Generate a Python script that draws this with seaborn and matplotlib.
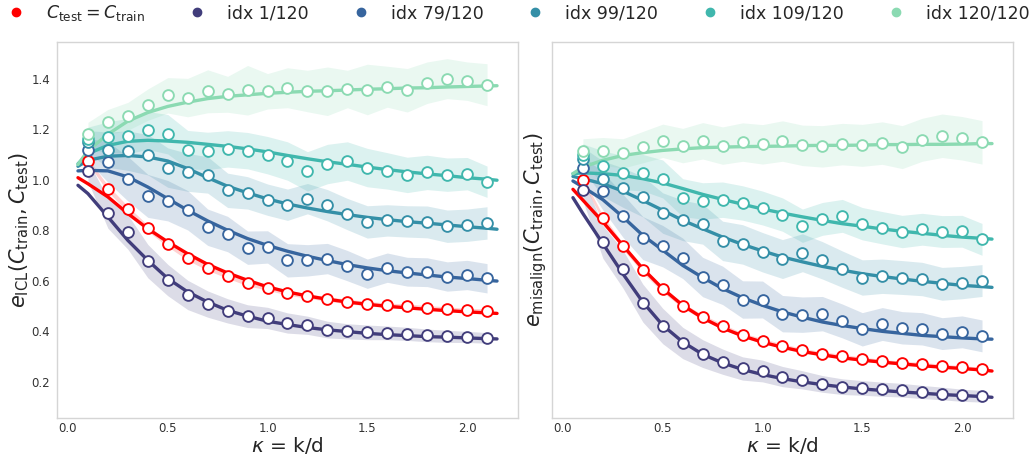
import numpy as np
import matplotlib
matplotlib.use("Agg")
import matplotlib.pyplot as plt
from matplotlib.lines import Line2D
import seaborn as sns

# ---------------- data ----------------
kappa = [0.1, 0.2, 0.3, 0.4, 0.5, 0.6, 0.7, 0.8, 0.9, 1.0, 1.1,
         1.2, 1.3, 1.4, 1.5, 1.6, 1.7, 1.8, 1.9, 2.0, 2.1]
kappa_theory = [0.05, 0.1, 0.2, 0.3, 0.4, 0.5, 0.6, 0.7, 0.8, 0.9, 1.0, 1.1,
                1.2, 1.3, 1.4, 1.5, 1.6, 1.7, 1.8, 1.9, 2.0, 2.1, 2.15]

series_labels = ["$C_{\\mathrm{test}} = C_{\\mathrm{train}}$", "idx 1/120", "idx 79/120",
                 "idx 99/120", "idx 109/120", "idx 120/120"]

# left panel: e_ICL -- theory curves
icl_theory_match = [1.008, 0.984, 0.932, 0.866, 0.806, 0.754, 0.707, 0.665, 0.631, 0.602, 0.576, 0.556,
                    0.540, 0.527, 0.516, 0.507, 0.499, 0.493, 0.487, 0.482, 0.477, 0.473, 0.471]
icl_theory_idx1 = [0.978, 0.945, 0.853, 0.760, 0.681, 0.609, 0.556, 0.516, 0.483, 0.460, 0.440, 0.427,
                   0.415, 0.406, 0.399, 0.392, 0.387, 0.383, 0.379, 0.377, 0.374, 0.371, 0.370]
icl_theory_idx79 = [1.035, 1.037, 1.035, 1.011, 0.971, 0.925, 0.879, 0.837, 0.800, 0.767, 0.740, 0.717,
                    0.697, 0.680, 0.664, 0.651, 0.640, 0.631, 0.623, 0.615, 0.609, 0.602, 0.599]
icl_theory_idx99 = [1.053, 1.077, 1.093, 1.096, 1.090, 1.074, 1.044, 1.008, 0.974, 0.948, 0.924, 0.904,
                    0.888, 0.874, 0.862, 0.851, 0.842, 0.834, 0.828, 0.821, 0.814, 0.808, 0.804]
icl_theory_idx109 = [1.063, 1.103, 1.136, 1.152, 1.156, 1.153, 1.148, 1.140, 1.132, 1.122, 1.110, 1.096,
                     1.083, 1.071, 1.061, 1.050, 1.040, 1.031, 1.023, 1.016, 1.008, 1.002, 0.998]
icl_theory_idx120 = [1.060, 1.115, 1.180, 1.232, 1.266, 1.290, 1.307, 1.321, 1.330, 1.336, 1.342, 1.346,
                     1.350, 1.352, 1.355, 1.358, 1.360, 1.363, 1.364, 1.367, 1.369, 1.371, 1.372]

# left panel: e_ICL -- empirical means
icl_emp_match = [1.074, 0.965, 0.883, 0.808, 0.746, 0.692, 0.651, 0.620, 0.590, 0.573, 0.553,
                 0.540, 0.528, 0.518, 0.510, 0.503, 0.499, 0.494, 0.489, 0.483, 0.481]
icl_emp_idx1 = [1.033, 0.868, 0.793, 0.678, 0.603, 0.544, 0.508, 0.481, 0.460, 0.453, 0.433,
                0.424, 0.407, 0.400, 0.396, 0.394, 0.390, 0.384, 0.380, 0.378, 0.374]
icl_emp_idx79 = [1.119, 1.070, 1.004, 0.936, 0.917, 0.879, 0.812, 0.785, 0.731, 0.734, 0.681,
                 0.681, 0.688, 0.660, 0.628, 0.652, 0.636, 0.634, 0.617, 0.623, 0.610]
icl_emp_idx99 = [1.149, 1.119, 1.115, 1.099, 1.048, 1.029, 1.019, 0.958, 0.948, 0.921, 0.901,
                 0.925, 0.899, 0.864, 0.833, 0.839, 0.835, 0.833, 0.816, 0.820, 0.829]
icl_emp_idx109 = [1.163, 1.169, 1.173, 1.195, 1.180, 1.119, 1.114, 1.122, 1.115, 1.097, 1.074,
                  1.033, 1.062, 1.074, 1.048, 1.035, 1.019, 1.029, 1.020, 1.024, 0.992]
icl_emp_idx120 = [1.182, 1.228, 1.251, 1.297, 1.334, 1.325, 1.350, 1.338, 1.354, 1.350, 1.364,
                  1.351, 1.350, 1.359, 1.357, 1.368, 1.354, 1.384, 1.400, 1.390, 1.376]

# left panel: e_ICL -- empirical spread (half-width of band)
icl_sd_match = [0.010, 0.012, 0.012, 0.012, 0.011, 0.011, 0.010, 0.010, 0.010, 0.010, 0.010,
                0.009, 0.009, 0.009, 0.009, 0.009, 0.009, 0.008, 0.008, 0.008, 0.008]
icl_sd_idx1 = [0.040, 0.060, 0.068, 0.066, 0.062, 0.058, 0.052, 0.048, 0.045, 0.042, 0.040,
               0.036, 0.033, 0.030, 0.029, 0.027, 0.026, 0.025, 0.024, 0.022, 0.021]
icl_sd_idx79 = [0.045, 0.080, 0.088, 0.085, 0.080, 0.078, 0.072, 0.070, 0.066, 0.064, 0.066,
                0.062, 0.060, 0.060, 0.058, 0.058, 0.057, 0.057, 0.058, 0.058, 0.058]
icl_sd_idx99 = [0.045, 0.070, 0.078, 0.080, 0.078, 0.075, 0.072, 0.068, 0.064, 0.062, 0.062,
                0.060, 0.062, 0.062, 0.064, 0.062, 0.062, 0.063, 0.064, 0.064, 0.064]
icl_sd_idx109 = [0.045, 0.060, 0.070, 0.075, 0.078, 0.076, 0.074, 0.072, 0.072, 0.074, 0.076,
                 0.078, 0.078, 0.076, 0.076, 0.072, 0.070, 0.068, 0.066, 0.064, 0.062]
icl_sd_idx120 = [0.045, 0.050, 0.055, 0.062, 0.070, 0.076, 0.085, 0.071, 0.098, 0.070, 0.079,
                 0.082, 0.096, 0.074, 0.100, 0.081, 0.086, 0.082, 0.079, 0.076, 0.083]

# right panel: e_misalign -- theory curves
mis_theory_match = [0.962, 0.919, 0.833, 0.740, 0.648, 0.569, 0.503, 0.453, 0.413, 0.382, 0.357, 0.337,
                    0.320, 0.307, 0.295, 0.286, 0.278, 0.271, 0.264, 0.258, 0.253, 0.247, 0.243]
mis_theory_idx1 = [0.929, 0.866, 0.747, 0.628, 0.516, 0.424, 0.358, 0.309, 0.275, 0.249, 0.229, 0.213,
                   0.200, 0.189, 0.180, 0.172, 0.166, 0.160, 0.155, 0.150, 0.146, 0.142, 0.139]
mis_theory_idx79 = [0.995, 0.971, 0.921, 0.853, 0.780, 0.721, 0.661, 0.613, 0.569, 0.533, 0.503, 0.477,
                    0.456, 0.437, 0.423, 0.411, 0.400, 0.392, 0.384, 0.379, 0.374, 0.370, 0.369]
mis_theory_idx99 = [1.013, 1.004, 0.984, 0.955, 0.918, 0.879, 0.839, 0.806, 0.773, 0.744, 0.718, 0.694,
                    0.675, 0.657, 0.642, 0.628, 0.617, 0.607, 0.598, 0.590, 0.582, 0.577, 0.574]
mis_theory_idx109 = [1.024, 1.027, 1.024, 1.017, 1.004, 0.987, 0.965, 0.942, 0.922, 0.903, 0.884, 0.868,
                     0.853, 0.839, 0.826, 0.816, 0.805, 0.796, 0.788, 0.780, 0.773, 0.768, 0.765]
mis_theory_idx120 = [1.024, 1.050, 1.077, 1.096, 1.107, 1.116, 1.122, 1.127, 1.129, 1.131, 1.132, 1.133,
                     1.135, 1.136, 1.136, 1.137, 1.139, 1.139, 1.140, 1.140, 1.141, 1.143, 1.143]

# right panel: e_misalign -- empirical means
mis_emp_match = [1.000, 0.847, 0.737, 0.642, 0.566, 0.502, 0.456, 0.420, 0.384, 0.363, 0.342,
                 0.325, 0.311, 0.301, 0.290, 0.282, 0.275, 0.270, 0.263, 0.257, 0.251]
mis_emp_idx1 = [0.961, 0.754, 0.647, 0.512, 0.421, 0.354, 0.312, 0.280, 0.253, 0.243, 0.221,
                0.208, 0.192, 0.181, 0.176, 0.171, 0.167, 0.160, 0.154, 0.147, 0.143]
mis_emp_idx79 = [1.048, 0.955, 0.858, 0.769, 0.737, 0.689, 0.615, 0.582, 0.526, 0.526, 0.470,
                 0.466, 0.470, 0.441, 0.408, 0.429, 0.414, 0.410, 0.391, 0.398, 0.382]
mis_emp_idx99 = [1.083, 1.004, 0.969, 0.933, 0.868, 0.839, 0.824, 0.758, 0.744, 0.713, 0.686,
                 0.711, 0.681, 0.646, 0.613, 0.618, 0.613, 0.607, 0.588, 0.593, 0.601]
mis_emp_idx109 = [1.097, 1.054, 1.028, 1.028, 1.003, 0.929, 0.916, 0.921, 0.908, 0.888, 0.862,
                  0.818, 0.845, 0.857, 0.826, 0.810, 0.795, 0.804, 0.795, 0.796, 0.764]
mis_emp_idx120 = [1.112, 1.112, 1.104, 1.129, 1.154, 1.135, 1.154, 1.135, 1.149, 1.140, 1.153,
                  1.136, 1.132, 1.141, 1.136, 1.145, 1.129, 1.158, 1.174, 1.164, 1.148]

# right panel: e_misalign -- empirical spread
mis_sd_match = [0.010, 0.012, 0.012, 0.011, 0.011, 0.010, 0.010, 0.009, 0.009, 0.009, 0.008,
                0.008, 0.008, 0.008, 0.008, 0.007, 0.007, 0.007, 0.007, 0.007, 0.007]
mis_sd_idx1 = [0.045, 0.065, 0.075, 0.075, 0.070, 0.062, 0.055, 0.050, 0.046, 0.043, 0.040,
               0.036, 0.033, 0.031, 0.029, 0.028, 0.027, 0.026, 0.025, 0.024, 0.023]
mis_sd_idx79 = [0.045, 0.075, 0.085, 0.085, 0.082, 0.080, 0.078, 0.076, 0.074, 0.073, 0.072,
                0.070, 0.068, 0.067, 0.066, 0.065, 0.064, 0.064, 0.063, 0.063, 0.063]
mis_sd_idx99 = [0.045, 0.070, 0.078, 0.080, 0.080, 0.080, 0.079, 0.078, 0.078, 0.078, 0.077,
                0.075, 0.074, 0.072, 0.070, 0.068, 0.067, 0.066, 0.065, 0.064, 0.063]
mis_sd_idx109 = [0.045, 0.060, 0.068, 0.072, 0.075, 0.075, 0.072, 0.070, 0.068, 0.067, 0.066,
                 0.066, 0.065, 0.065, 0.064, 0.064, 0.064, 0.063, 0.063, 0.063, 0.063]
mis_sd_idx120 = [0.050, 0.055, 0.058, 0.062, 0.066, 0.068, 0.072, 0.074, 0.076, 0.078, 0.080,
                 0.080, 0.082, 0.082, 0.083, 0.084, 0.085, 0.085, 0.086, 0.086, 0.086]

# ---------------- style ----------------
sns.set_style("whitegrid", {"axes.grid": False, "axes.edgecolor": "#d5d5d5"})
plt.rcParams["font.family"] = ["DejaVu Sans"]

palette = ["#ff0000"] + list(sns.color_palette("mako", 6)[1:])

fig = plt.figure(figsize=(10.31, 4.58), dpi=100)
ax_l = fig.add_axes([0.0553, 0.0873, 0.4471, 0.821])
ax_r = fig.add_axes([0.5354, 0.0873, 0.4471, 0.821], sharey=ax_l)

panels = [
    (ax_l,
     [icl_theory_match, icl_theory_idx1, icl_theory_idx79, icl_theory_idx99, icl_theory_idx109, icl_theory_idx120],
     [icl_emp_match, icl_emp_idx1, icl_emp_idx79, icl_emp_idx99, icl_emp_idx109, icl_emp_idx120],
     [icl_sd_match, icl_sd_idx1, icl_sd_idx79, icl_sd_idx99, icl_sd_idx109, icl_sd_idx120],
     "$e_{\\mathrm{ICL}}(C_{\\mathrm{train}}, C_{\\mathrm{test}})$", 0),
    (ax_r,
     [mis_theory_match, mis_theory_idx1, mis_theory_idx79, mis_theory_idx99, mis_theory_idx109, mis_theory_idx120],
     [mis_emp_match, mis_emp_idx1, mis_emp_idx79, mis_emp_idx99, mis_emp_idx109, mis_emp_idx120],
     [mis_sd_match, mis_sd_idx1, mis_sd_idx79, mis_sd_idx99, mis_sd_idx109, mis_sd_idx120],
     "$e_{\\mathrm{misalign}}(C_{\\mathrm{train}}, C_{\\mathrm{test}})$", 2),
]

for ax, theories, emps, sds, ylabel, ypad in panels:
    for th, emp, sd, col in zip(theories, emps, sds, palette):
        emp_a = np.asarray(emp)
        sd_a = np.asarray(sd)
        ax.fill_between(kappa, emp_a - sd_a, emp_a + sd_a, color=col, alpha=0.18, lw=0, zorder=1)
    for th, emp, sd, col in zip(theories, emps, sds, palette):
        sns.lineplot(x=kappa_theory, y=th, color=col, lw=2.4, ax=ax, zorder=3)
    for th, emp, sd, col in zip(theories, emps, sds, palette):
        sns.scatterplot(x=kappa, y=emp, color="white", edgecolor=col, s=60, linewidth=1.35,
                        ax=ax, zorder=4, legend=False)
    ax.set_xlim(-0.055, 2.255)
    ax.set_ylim(0.057, 1.545)
    ax.set_xticks([0.0, 0.5, 1.0, 1.5, 2.0])
    ax.set_xlabel("$\\kappa$ = k/d", fontsize=14.5, labelpad=0)
    ax.set_ylabel(ylabel, fontsize=15, labelpad=ypad)
    ax.tick_params(axis="both", labelsize=8.5, length=0, labelcolor="#333333")
    ax.tick_params(axis="x", pad=3)
    ax.tick_params(axis="y", pad=5)
    for sp in ax.spines.values():
        sp.set_color("#d5d5d5")
        sp.set_linewidth(1.0)

ax_l.set_yticks([0.2, 0.4, 0.6, 0.8, 1.0, 1.2, 1.4])
ax_r.tick_params(axis="y", labelleft=False)

handles = [Line2D([], [], marker="o", ls="", color=c, markersize=6) for c in palette]
fig.legend(handles, series_labels, loc="center", bbox_to_anchor=(0.503, 0.9716), ncol=6,
           frameon=False, fontsize=12.5, handlelength=1.0, handletextpad=1.22, columnspacing=2.5,
           borderpad=0.0, borderaxespad=0.0)

fig.savefig("out.png", dpi=100)
